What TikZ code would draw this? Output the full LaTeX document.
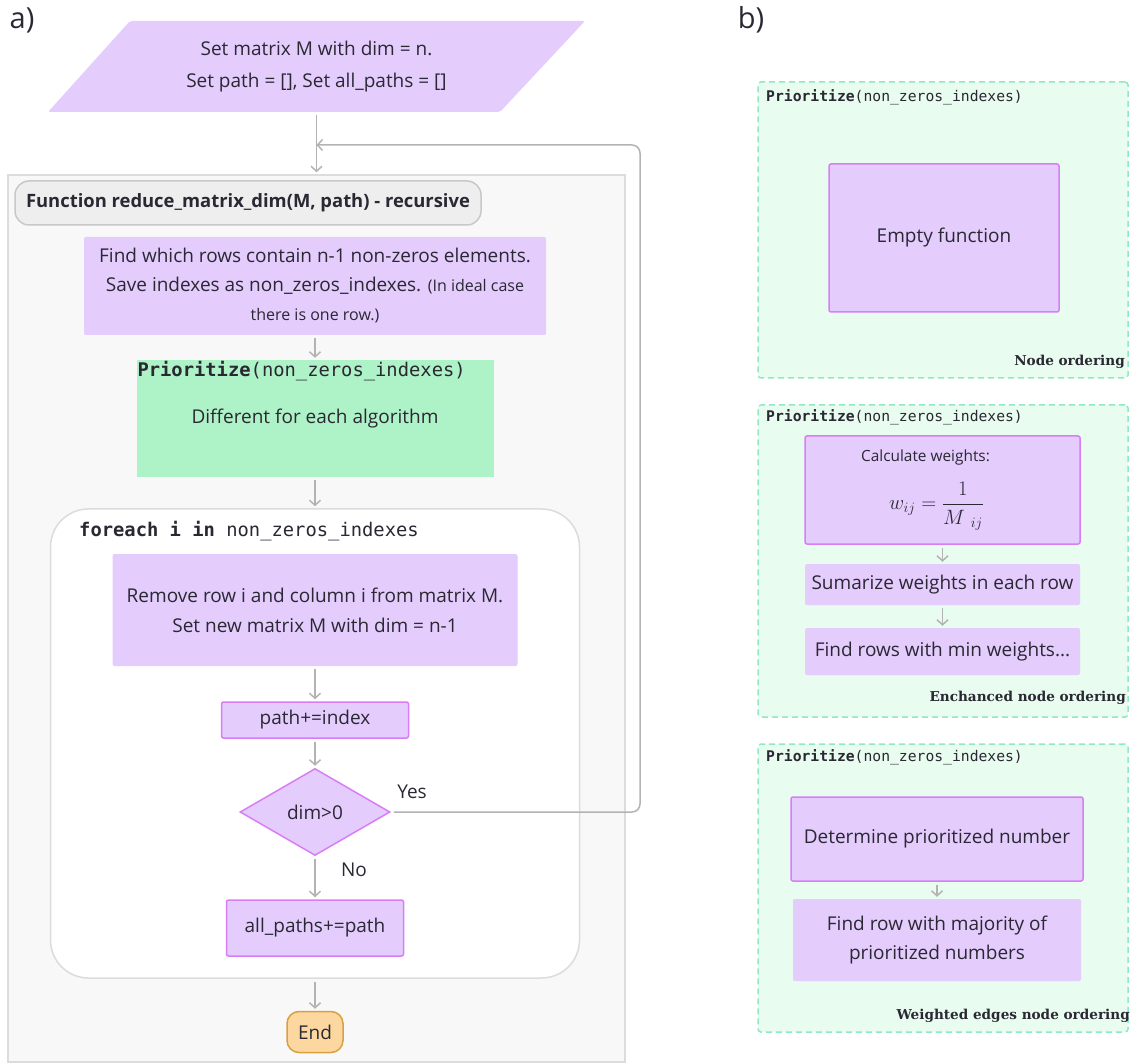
\documentclass[tikz,border=0pt]{standalone}
\usepackage{amsmath}
\usepackage{fontspec}
\usetikzlibrary{shapes.geometric}
\usetikzlibrary{arrows.meta}
\setmainfont{Open Sans}
\newfontfamily\codefont{DejaVu Sans Mono}
\newfontfamily\tagfont{DejaVu Serif}
\definecolor{lav}{HTML}{E4CCFD}
\definecolor{vio}{HTML}{D97DF6}
\definecolor{prioG}{HTML}{AEF2C7}
\definecolor{mint}{HTML}{E8FCEF}
\definecolor{mintbd}{HTML}{90E9C4}
\definecolor{graybg}{HTML}{F8F8F8}
\definecolor{graybd}{HTML}{DCDCDC}
\definecolor{pillbg}{HTML}{EEEEEE}
\definecolor{pillbd}{HTML}{C8C8C8}
\definecolor{endfill}{HTML}{FDD7A0}
\definecolor{endbd}{HTML}{D9A040}
\definecolor{arr}{HTML}{B3B3B3}
\definecolor{ink}{HTML}{2A2833}
\newcommand{\pz}{{\bfseries Prioritize}(non\_zeros\_indexes)}
\newcommand{\fs}[2]{\fontsize{#1}{#2}\selectfont}

\begin{document}
\begin{tikzpicture}[x=1pt, y=-1pt, text=ink,
    every node/.style={font=\fs{19}{30}},
    proc/.style={fill=lav, rounded corners=2pt, align=center},
    edged/.style={proc, draw=vio, line width=1.5pt},
    panel/.style={fill=mint, draw=mintbd, dash pattern=on 6pt off 4pt, line width=1.5pt, rounded corners=3pt},
    code/.style={font=\codefont\fs{18.8}{22}, inner sep=1pt},
    smallcode/.style={font=\codefont\fs{14.7}{18}, inner sep=1pt, anchor=west},
    tag/.style={font=\tagfont\bfseries\fs{13.6}{16}, anchor=east, inner sep=1pt},
    conn/.style={draw=arr, line width=1.5pt, -{Straight Barb[length=5pt,width=11pt]}, shorten <=3pt, shorten >=2pt}]
  \useasboundingbox (0,0) rectangle (1136,1064);
  \node[font=\fs{29}{30}] (ta) at (22,20) {a)};
  \node[font=\fs{29}{30}] (tb) at (751,20) {b)};

  % a) main flow
  \fill[lav, rounded corners=2pt] (48,112) -- (500,112) -- (585,21) -- (130,21) -- cycle;
  \node[minimum width=537pt, minimum height=91pt, align=center, font=\fs{19}{32}] (start) at (316.5,66.5)
    {Set matrix M with dim = n.\\Set path = [], Set all\_paths = []};
  \node[fill=graybg, draw=graybd, line width=1.5pt, minimum width=617pt, minimum height=887pt] (func) at (316.5,618.5) {};
  \node[fill=pillbg, draw=pillbd, line width=1.5pt, rounded corners=14pt, minimum width=466pt, minimum height=44pt,
    font=\bfseries\fs{18.4}{20}] (ftitle) at (248,203) {Function reduce\_matrix\_dim(M, path) - recursive};
  \node[proc, minimum width=462pt, minimum height=98pt, font=\fs{19}{29}] (find) at (315,286)
    {Find which rows contain n-1 non-zeros elements.\\Save indexes as non\_zeros\_indexes. {\fs{16}{18}(In ideal case}\\{\fs{16}{26}there is one row.)}};
  \node[fill=prioG, minimum width=357pt, minimum height=117pt] (prio) at (315,418.5) {Different for each algorithm};
  \node[code, anchor=north west] (ptitle) at (prio.north west) {\pz};
  \node[fill=white, draw=graybd, line width=1.5pt, rounded corners=38pt, minimum width=529pt, minimum height=469pt] (loop) at (315,743.5) {};
  \node[code, anchor=west] (ltitle) at (78,531) {{\bfseries foreach i in} non\_zeros\_indexes};
  \node[proc, minimum width=405pt, minimum height=112pt] (remove) at (315,610)
    {Remove row i and column i from matrix M.\\Set new matrix M with dim = n-1};
  \node[edged, minimum width=187pt, minimum height=36pt] (addp) at (315,720) {path+=index};
  \node[diamond, fill=lav, draw=vio, line width=1.5pt, minimum width=150pt, minimum height=87pt, inner sep=0pt] (dec) at (315,812) {dim>0};
  \node[edged, minimum width=177pt, minimum height=56pt] (allp) at (315,928) {all\_paths+=path};
  \node[fill=endfill, draw=endbd, line width=1.5pt, rounded corners=12pt, minimum width=56pt, minimum height=41pt] (stop) at (315,1032) {End};
  \node (yes) at (412,792) {Yes};
  \node (no) at (354,870) {No};
  \coordinate (join) at (316.5,145);
  \coordinate (turn) at (640,145);

  \draw[conn] (start) -- (func);
  \draw[conn] (find) -- (prio);
  \draw[conn] (prio) -- (loop);
  \draw[conn] (remove) -- (addp);
  \draw[conn] (addp) -- (dec);
  \draw[conn] (dec) -- (allp);
  \draw[conn] (loop) -- (stop);
  \draw[conn, rounded corners=8pt, shorten >=0pt] (dec.east) -| (turn) -- (join);

  % b) variants of Prioritize
  \node[panel, minimum width=370pt, minimum height=296pt] (p1) at (943,230) {};
  \node[smallcode] (t1) at (765,97) {\pz};
  \node[edged, minimum width=230pt, minimum height=148pt] (empty) at (944,238) {Empty function};
  \node[tag] (g1) at (1126,362) {Node ordering};

  \node[panel, minimum width=370pt, minimum height=312pt] (p2) at (943,561) {};
  \node[smallcode] (t2) at (765,417) {\pz};
  \node[edged, minimum width=275pt, minimum height=108pt, font=\fs{15.4}{16}] (calc) at (942.5,490)
    {Calculate weights:\hspace*{34pt}\\[16pt] {\fs{21}{24}$w_{ij}=\dfrac{1}{M\;_{ij}}$}\hspace*{12pt}};
  \node[proc, minimum width=275pt, minimum height=41pt] (sum) at (942.5,584.5) {Sumarize weights in each row};
  \node[proc, minimum width=275pt, minimum height=47pt] (rows) at (942.5,651.5) {Find rows with min weights...};
  \node[tag] (g2) at (1127,698) {Enchanced node ordering};
  \draw[conn] (calc) -- (sum);
  \draw[conn] (sum) -- (rows);

  \node[panel, minimum width=370pt, minimum height=288pt] (p3) at (943,888) {};
  \node[smallcode] (t3) at (765,757) {\pz};
  \node[edged, minimum width=292pt, minimum height=84pt] (det) at (937,839) {Determine prioritized number};
  \node[proc, minimum width=288pt, minimum height=82pt, font=\fs{19}{29}] (frow) at (937,940) {Find row with majority of\\prioritized numbers};
  \node[tag] (g3) at (1131,1016) {Weighted edges node ordering};
  \draw[conn] (det) -- (frow);
\end{tikzpicture}
\end{document}
